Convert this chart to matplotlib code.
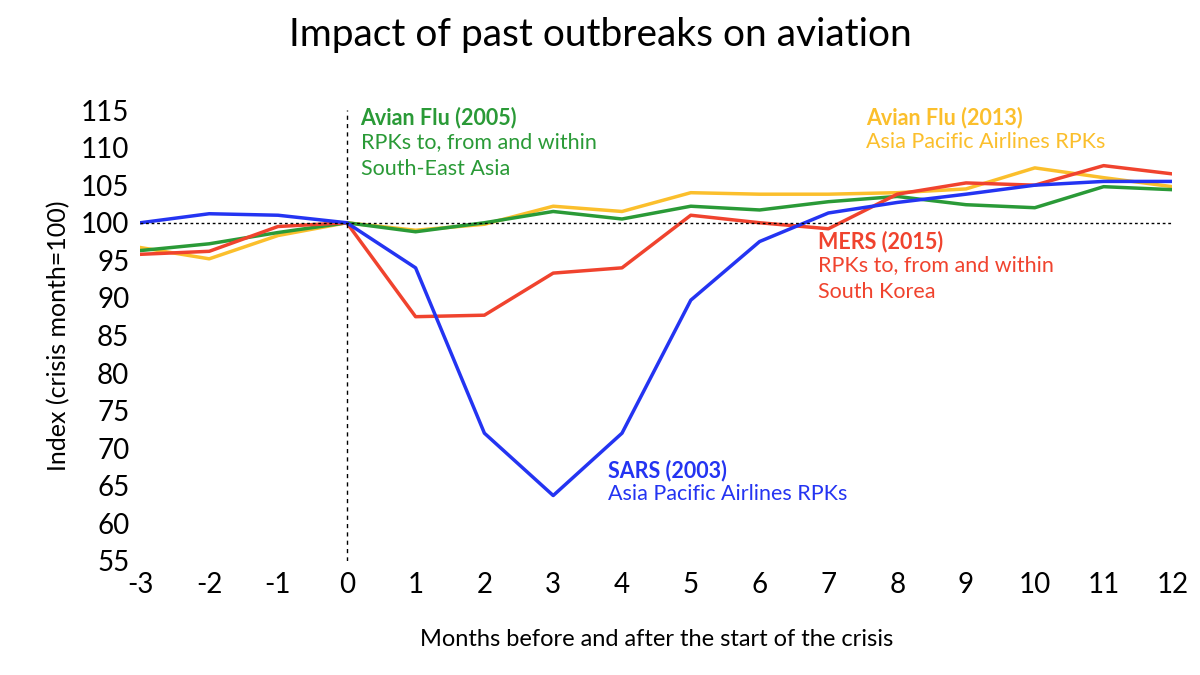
import matplotlib
matplotlib.use("Agg")
import matplotlib.pyplot as plt

months = list(range(-3, 13))
sars = [100, 101.2, 101, 100, 94, 72, 63.7, 72, 89.7, 97.5, 101.3, 102.7, 103.8, 105, 105.5, 105.5]
mers = [95.8, 96.2, 99.5, 100, 87.5, 87.7, 93.3, 94, 101, 100, 99.2, 103.8, 105.3, 105, 107.6, 106.5]
avian05 = [96.3, 97.2, 98.7, 100, 98.8, 100, 101.5, 100.5, 102.2, 101.7, 102.8, 103.5, 102.4, 102, 104.8, 104.4]
avian13 = [96.7, 95.2, 98.3, 100, 99, 99.8, 102.2, 101.5, 104, 103.8, 103.8, 104, 104.5, 107.3, 106, 104.8]

plt.rcParams['font.family'] = ['Lato', 'DejaVu Sans']
plt.rcParams['axes.unicode_minus'] = False
BLUE, RED, GREEN, YELLOW = '#2434f2', '#f0432e', '#2a9a37', '#fbbf2c'

fig = plt.figure(figsize=(12, 6.75), dpi=100)
ax = fig.add_axes([0.117, 0.169, 0.86, 0.668])
ax.plot(months, avian13, color=YELLOW, lw=2.5)
ax.plot(months, avian05, color=GREEN, lw=2.5)
ax.plot(months, mers, color=RED, lw=2.5)
ax.plot(months, sars, color=BLUE, lw=2.5)
ax.axhline(100, color='black', ls=(0, (2, 2)), lw=1)
ax.axvline(0, color='black', ls=(0, (3, 3)), lw=1)
ax.set_xlim(-3, 12)
ax.set_ylim(55, 115)
ax.set_xticks(months)
ax.set_yticks(range(55, 116, 5))
ax.tick_params(labelsize=20, length=0, pad=8)
for s in ax.spines.values():
    s.set_visible(False)
ax.set_xlabel('Months before and after the start of the crisis', fontsize=17, labelpad=22)
ax.set_ylabel('Index (crisis month=100)', fontsize=18, labelpad=8)
fig.suptitle('Impact of past outbreaks on aviation', fontsize=28, y=0.975)

def label(x, y, head, body, color):
    ax.text(x, y, head, color=color, fontsize=15.5, fontweight='bold', va='top')
    ax.text(x, y - 3.3, body, color=color, fontsize=15.5, va='top', linespacing=1.45)

label(0.2, 115.4, 'Avian Flu (2005)', 'RPKs to, from and within\nSouth-East Asia', GREEN)
label(7.55, 115.4, 'Avian Flu (2013)', 'Asia Pacific Airlines RPKs', YELLOW)
label(6.85, 99.0, 'MERS (2015)', 'RPKs to, from and within\nSouth Korea', RED)
label(3.8, 68.5, 'SARS (2003)', 'Asia Pacific Airlines RPKs', BLUE)

fig.savefig('out.png')
